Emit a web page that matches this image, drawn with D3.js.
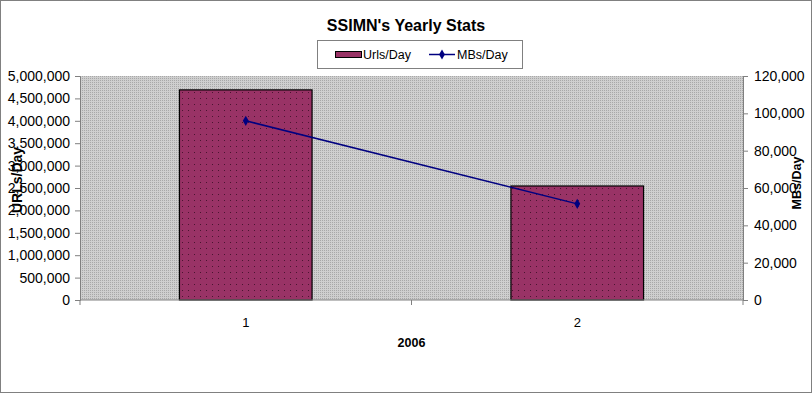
<!DOCTYPE html>
<html>
<head>
<meta charset="utf-8">
<script src="https://cdn.jsdelivr.net/npm/d3@7"></script>
<style>
  body { margin: 0; background: #fff; }
  svg { display: block; font-family: Arial, "Liberation Sans", sans-serif; }
</style>
</head>
<body>
<div id="chart"></div>
<script>
// data
const categories = ["1", "2"];
const urlsPerDay = [4690000, 2545000];
const mbsPerDay = [96000, 51500];
const leftTicks = [0, 500000, 1000000, 1500000, 2000000, 2500000, 3000000, 3500000, 4000000, 4500000, 5000000];
const rightTicks = [0, 20000, 40000, 60000, 80000, 100000, 120000];

const width = 812, height = 393;
const marginLeft = 80, marginRight = 69, marginTop = 76, marginBottom = 93;

const svg = d3.select("#chart").append("svg")
    .attr("width", width)
    .attr("height", height)
    .attr("viewBox", [0, 0, width, height]);

const defs = svg.append("defs");
// plot area texture
const bg = defs.append("pattern")
    .attr("id", "bgdots")
    .attr("width", 2).attr("height", 2)
    .attr("patternUnits", "userSpaceOnUse");
bg.append("rect").attr("width", 2).attr("height", 2).attr("fill", "#cfcfcf");
bg.append("rect").attr("width", 1).attr("height", 1).attr("fill", "#a8a8a8");

// bar texture
const bp = defs.append("pattern")
    .attr("id", "bardots")
    .attr("width", 6).attr("height", 6)
    .attr("patternUnits", "userSpaceOnUse");
bp.append("rect").attr("width", 6).attr("height", 6).attr("fill", "#993366");
bp.append("rect").attr("x", 2).attr("y", 2).attr("width", 1).attr("height", 1).attr("fill", "#4a1530");

// outer dotted border
svg.append("rect")
    .attr("x", 0.5).attr("y", 0.5)
    .attr("width", width - 1).attr("height", height - 1)
    .attr("fill", "#fff")
    .attr("stroke", "#000")
    .attr("stroke-dasharray", "1,1");

const x = d3.scaleBand(categories, [marginLeft, width - marginRight]).padding(0);
const yL = d3.scaleLinear([0, 5000000], [height - marginBottom, marginTop]);
const yR = d3.scaleLinear([0, 120000], [height - marginBottom, marginTop]);

// plot area
svg.append("rect")
    .attr("x", marginLeft).attr("y", marginTop)
    .attr("width", width - marginLeft - marginRight)
    .attr("height", height - marginTop - marginBottom)
    .attr("fill", "url(#bgdots)");

// bars
const barW = x.bandwidth() * 0.4;
svg.append("g")
  .selectAll("rect")
  .data(urlsPerDay)
  .join("rect")
    .attr("x", (d, i) => x(categories[i]) + (x.bandwidth() - barW) / 2)
    .attr("y", d => yL(d))
    .attr("width", barW)
    .attr("height", d => yL(0) - yL(d))
    .attr("fill", "url(#bardots)")
    .attr("stroke", "#000")
    .attr("stroke-width", 1.2);

// line
const line = d3.line()
    .x((d, i) => x(categories[i]) + x.bandwidth() / 2)
    .y(d => yR(d));
svg.append("path")
    .datum(mbsPerDay)
    .attr("d", line)
    .attr("fill", "none")
    .attr("stroke", "#000080")
    .attr("stroke-width", 1.5);
svg.append("g")
  .selectAll("path")
  .data(mbsPerDay)
  .join("path")
    .attr("transform", (d, i) => `translate(${x(categories[i]) + x.bandwidth() / 2},${yR(d)})`)
    .attr("d", d3.symbol(d3.symbolDiamond, 30))
    .attr("fill", "#000080");

// axes
const fmt = d3.format(",");
const axisStyle = g => {
  g.selectAll(".domain").attr("stroke", "#808080");
  g.selectAll(".tick line").attr("stroke", "#808080");
  g.selectAll(".tick text").attr("fill", "#000").attr("font-size", 14);
};

svg.append("g")
    .attr("transform", `translate(${marginLeft},0)`)
    .call(d3.axisLeft(yL).tickValues(leftTicks).tickFormat(fmt).tickSizeOuter(0).tickSize(5).tickPadding(5))
    .call(axisStyle);

svg.append("g")
    .attr("transform", `translate(${width - marginRight},0)`)
    .call(d3.axisRight(yR).tickValues(rightTicks).tickFormat(fmt).tickSizeOuter(0).tickSize(5).tickPadding(6))
    .call(axisStyle);

// bottom axis: ticks sit between the categories
const bottom = svg.append("g")
    .attr("transform", `translate(0,${height - marginBottom})`);
bottom.append("line")
    .attr("x1", marginLeft).attr("x2", width - marginRight)
    .attr("stroke", "#808080");
bottom.selectAll(".sep")
  .data([...categories.map(c => x(c)), x.range()[1]])
  .join("line")
    .attr("x1", d => d).attr("x2", d => d)
    .attr("y1", 0).attr("y2", 5)
    .attr("stroke", "#808080");
bottom.selectAll("text")
  .data(categories)
  .join("text")
    .attr("x", d => x(d) + x.bandwidth() / 2)
    .attr("y", 27)
    .attr("text-anchor", "middle")
    .attr("font-size", 13)
    .text(d => d);

// titles
svg.append("text")
    .attr("x", 406).attr("y", 31)
    .attr("text-anchor", "middle")
    .attr("font-size", 16)
    .attr("font-weight", "bold")
    .text("SSIMN's Yearly Stats");

svg.append("text")
    .attr("x", (marginLeft + width - marginRight) / 2)
    .attr("y", 347)
    .attr("text-anchor", "middle")
    .attr("font-size", 12.5)
    .attr("font-weight", "bold")
    .text("2006");

svg.append("text")
    .attr("transform", "translate(22,180) rotate(-90)")
    .attr("text-anchor", "middle")
    .attr("font-size", 14)
    .attr("font-weight", "bold")
    .text("URLs/Day");

svg.append("text")
    .attr("transform", "translate(801,183) rotate(-90)")
    .attr("text-anchor", "middle")
    .attr("font-size", 12.5)
    .attr("font-weight", "bold")
    .text("MBs/Day");

// legend
const legend = svg.append("g");
legend.append("rect")
    .attr("x", 317.5).attr("y", 40.5)
    .attr("width", 205).attr("height", 28)
    .attr("fill", "#fff")
    .attr("stroke", "#000")
    .attr("stroke-dasharray", "1,1");
legend.append("rect")
    .attr("x", 335.5).attr("y", 51.5)
    .attr("width", 26).attr("height", 6)
    .attr("fill", "#993366")
    .attr("stroke", "#000");
legend.append("text")
    .attr("x", 363).attr("y", 59)
    .attr("font-size", 12.5)
    .text("Urls/Day");
legend.append("line")
    .attr("x1", 429).attr("x2", 455)
    .attr("y1", 54.5).attr("y2", 54.5)
    .attr("stroke", "#000080")
    .attr("stroke-width", 1.5);
legend.append("path")
    .attr("transform", "translate(442,54.5)")
    .attr("d", d3.symbol(d3.symbolDiamond, 30))
    .attr("fill", "#000080");
legend.append("text")
    .attr("x", 457).attr("y", 59)
    .attr("font-size", 12.5)
    .text("MBs/Day");
</script>
</body>
</html>
